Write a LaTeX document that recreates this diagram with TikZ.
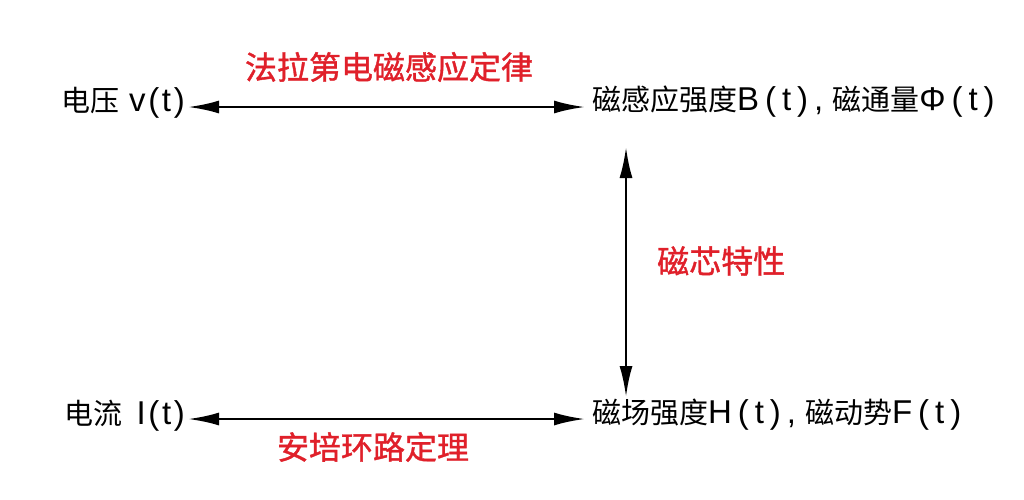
\documentclass[tikz,border=0pt]{standalone}
\usepackage{fontspec}
\setmainfont{Noto Sans CJK SC}
\newfontfamily\latfont[LetterSpace=18]{Liberation Sans}
\newfontfamily\latfontb[LetterSpace=8]{Liberation Sans}
\newfontfamily\redfont[FakeBold=1.2]{Noto Sans CJK SC}
\newcommand{\lt}[1]{{\fontsize{33pt}{38pt}\latfont #1}}
\newcommand{\ltb}[1]{{\fontsize{33pt}{38pt}\latfontb #1}}
\usetikzlibrary{arrows.meta}
\definecolor{lblred}{HTML}{E0202A}
\tikzset{
  blk/.style={font=\fontsize{29pt}{34pt}\selectfont, text=black, inner sep=0pt},
  redlbl/.style={font=\fontsize{32pt}{38pt}\redfont, text=lblred, inner sep=0pt},
  conn/.style={line width=2.7pt, {Latex[length=31pt,width=13pt]}-{Latex[length=31pt,width=13pt]}}
}
\begin{document}
\begin{tikzpicture}[x=1pt,y=-1pt]
\useasboundingbox (0,0) rectangle (1024,499);
\fill[white] (0,0) rectangle (1024,499);
\node[blk, anchor=east] (v) at (185,103) {电压\hspace{10pt}\ltb{v(t)}};
\node[blk, anchor=west] (B) at (592,102) {磁感应强度\lt{B(t)}\lt{,}\hspace{9pt}磁通量\lt{Φ(t)}};
\node[blk, anchor=east] (I) at (185,416) {电流\hspace{14pt}\ltb{I(t)}};
\node[blk, anchor=west] (H) at (592,415) {磁场强度\lt{H(t)}\lt{,}\hspace{9pt}磁动势\lt{F(t)}};
\coordinate (t1) at (188,107);
\coordinate (t2) at (585,107);
\coordinate (b1) at (188,419);
\coordinate (b2) at (585,419);
\coordinate (vt) at (626,147);
\coordinate (vb) at (626,397);
\draw[conn] (t1) -- (t2);
\draw[conn] (b1) -- (b2);
\draw[conn] (vt) -- (vb);
\node[redlbl] (faraday) at (389,67) {法拉第电磁感应定律};
\node[redlbl] (ampere) at (373,447) {安培环路定理};
\node[redlbl, anchor=west] (core) at (657,261) {磁芯特性};
\end{tikzpicture}
\end{document}
